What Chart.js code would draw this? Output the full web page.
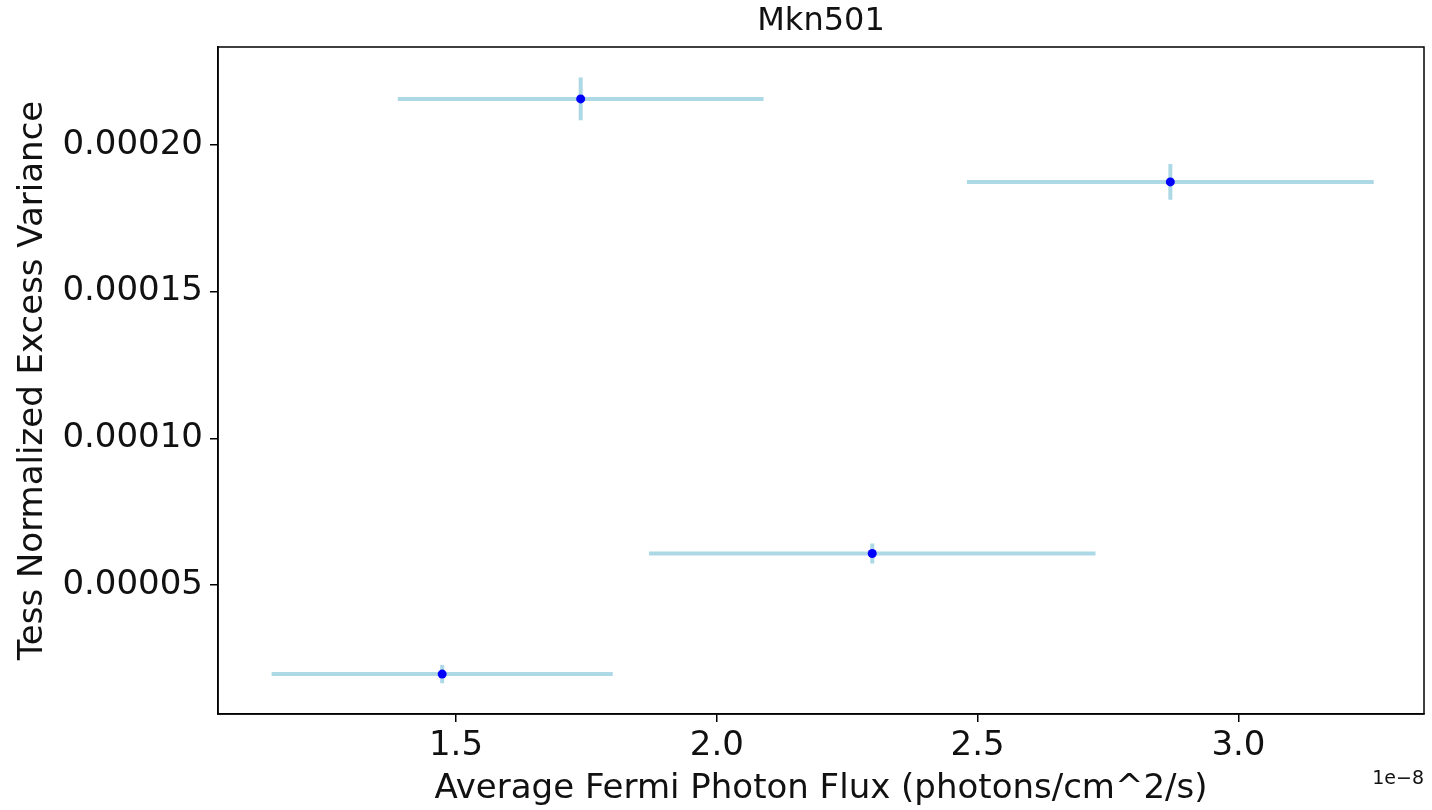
<!DOCTYPE html>
<html>
<head>
<meta charset="utf-8">
<title>Mkn501</title>
<script src="https://cdn.jsdelivr.net/npm/chart.js@4.4.1/dist/chart.umd.min.js"></script>
<style>
  html, body { margin: 0; padding: 0; background: #fff; }
  #wrap { width: 1432px; height: 810px; }
</style>
</head>
<body>
<div id="wrap"><canvas id="excessChart" width="1432" height="810"></canvas></div>
<script>
// Mkn501: TESS excess variance vs Fermi photon flux (x in units of 1e-8)
const fluxValues = [1.4735, 1.739, 2.298, 2.8695];
const fluxErrors = [0.327, 0.3506, 0.428, 0.390];
const varianceValues = [0.0000196, 0.0002157, 0.0000607, 0.0001874];
const varianceErrors = [0.0000031, 0.0000073, 0.0000034, 0.0000061];

const xTicks = [1.5, 2.0, 2.5, 3.0];
const yTicks = [0.00005, 0.00010, 0.00015, 0.00020];

const FONT = 'DejaVu Sans';
const TEXT = '#111';

// draw the light blue error bars under the points
const errorBars = {
    id: 'errorBars',
    beforeDatasetsDraw(chart) {
        const ctx = chart.ctx;
        const xs = chart.scales.x;
        const ys = chart.scales.y;
        ctx.save();
        ctx.strokeStyle = '#add8e6';
        ctx.lineWidth = 4;
        ctx.lineCap = 'butt';
        fluxValues.forEach((fx, i) => {
            const vy = varianceValues[i];
            const px = xs.getPixelForValue(fx);
            const py = ys.getPixelForValue(vy);
            ctx.beginPath();
            ctx.moveTo(xs.getPixelForValue(fx - fluxErrors[i]), py);
            ctx.lineTo(xs.getPixelForValue(fx + fluxErrors[i]), py);
            ctx.moveTo(px, ys.getPixelForValue(vy - varianceErrors[i]));
            ctx.lineTo(px, ys.getPixelForValue(vy + varianceErrors[i]));
            ctx.stroke();
        });
        ctx.restore();
    }
};

// box around the axes plus the matplotlib style offset text
const frame = {
    id: 'frame',
    afterDraw(chart) {
        const a = chart.chartArea;
        const ctx = chart.ctx;
        ctx.save();
        ctx.strokeStyle = '#000';
        ctx.lineWidth = 1.5;
        ctx.strokeRect(a.left, a.top, a.right - a.left, a.bottom - a.top);
        ctx.fillStyle = TEXT;
        ctx.font = '19px ' + FONT;
        ctx.textAlign = 'right';
        ctx.textBaseline = 'alphabetic';
        ctx.fillText('1e\u22128', a.right, a.bottom + 70);
        ctx.restore();
    }
};

new Chart(document.getElementById('excessChart'), {
    type: 'scatter',
    data: {
        datasets: [{
            label: 'Mkn501',
            data: fluxValues.map((x, i) => ({ x: x, y: varianceValues[i] })),
            backgroundColor: '#0000ff',
            borderColor: '#0000ff',
            pointRadius: 4.5,
            pointHoverRadius: 4.5,
            borderWidth: 0
        }]
    },
    options: {
        responsive: false,
        animation: false,
        layout: { padding: { left: 0, right: 8, top: 0, bottom: 0 } },
        plugins: {
            legend: { display: false },
            tooltip: { enabled: false },
            title: {
                display: true,
                text: 'Mkn501',
                fullSize: false,
                color: TEXT,
                font: { family: FONT, size: 32, weight: 'normal' },
                padding: { top: 2, bottom: 6.6 }
            }
        },
        scales: {
            x: {
                type: 'linear',
                min: 1.0437,
                max: 3.3558,
                afterBuildTicks: s => { s.ticks = xTicks.map(v => ({ value: v })); },
                afterFit: s => { s.height = 96; },
                grid: { drawOnChartArea: false, drawTicks: true, tickLength: 8, color: '#000', lineWidth: 1.5 },
                border: { display: true, color: '#000', width: 1.5 },
                ticks: {
                    color: TEXT,
                    padding: 4,
                    font: { family: FONT, size: 34 },
                    callback: v => v.toFixed(1)
                },
                title: {
                    display: true,
                    text: 'Average Fermi Photon Flux (photons/cm^2/s)',
                    color: TEXT,
                    font: { family: FONT, size: 34 },
                    padding: { top: 0, bottom: 0 }
                }
            },
            y: {
                type: 'linear',
                min: 0.0000060,
                max: 0.0002334,
                afterBuildTicks: s => { s.ticks = yTicks.map(v => ({ value: v })); },
                afterFit: s => { s.width = 218; },
                grid: { drawOnChartArea: false, drawTicks: true, tickLength: 8, color: '#000', lineWidth: 1.5 },
                border: { display: true, color: '#000', width: 1.5 },
                ticks: {
                    color: TEXT,
                    padding: 7,
                    font: { family: FONT, size: 34 },
                    callback: v => v.toFixed(5)
                },
                title: {
                    display: true,
                    text: 'Tess Normalized Excess Variance',
                    color: TEXT,
                    font: { family: FONT, size: 34 },
                    padding: { top: 13, bottom: 0 }
                }
            }
        }
    },
    plugins: [errorBars, frame]
});
</script>
</body>
</html>
